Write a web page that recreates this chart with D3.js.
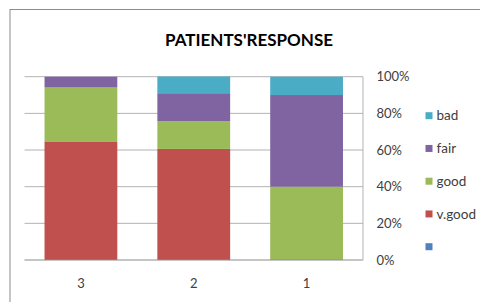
<!DOCTYPE html>
<html>
<head>
<meta charset="utf-8">
<script src="https://cdn.jsdelivr.net/npm/d3@7"></script>
<style>
  body { margin: 0; background: #fff; }
  text { font-family: Lato, "Open Sans", sans-serif; fill: #404040; }
</style>
</head>
<body>
<div id="container"></div>
<script>
/* DATA */
const categories = ["3", "2", "1"];
const seriesNames = ["", "v.good", "good", "fair", "bad"];
const blankVals = [0, 0, 0];
const vgoodVals = [64.7, 60.6, 0];
const goodVals = [29.4, 15.2, 40];
const fairVals = [5.9, 15.2, 50];
const badVals = [0, 9.1, 10];
const yTicks = [0, 20, 40, 60, 80, 100];
const colors = ["#4F81BD", "#C0504D", "#9BBB59", "#8064A2", "#4BACC6"];

const width = 480, height = 302;
const plot = {left: 24.5, right: 363, top: 76.7, bottom: 260};

// table for d3.stack
const allVals = [blankVals, vgoodVals, goodVals, fairVals, badVals];
const rows = categories.map((c, i) => {
  const r = {cat: c};
  seriesNames.forEach((s, j) => r[s] = allVals[j][i]);
  return r;
});

const svg = d3.select("#container").append("svg")
  .attr("width", width).attr("height", height);

// outer chart border
svg.append("rect")
  .attr("x", 10).attr("y", 9.5)
  .attr("width", 500).attr("height", 320)
  .attr("fill", "none").attr("stroke", "#8c8c8c").attr("stroke-width", 1);

// title
svg.append("text")
  .attr("x", 249).attr("y", 45.7)
  .attr("text-anchor", "middle")
  .attr("font-size", 17.5).attr("font-weight", "bold")
  .attr("textLength", 168).attr("lengthAdjust", "spacingAndGlyphs")
  .style("fill", "#000")
  .text("PATIENTS'RESPONSE");

/* SCALES */
const xScale = d3.scaleBand()
  .domain(categories)
  .range([plot.left, plot.right])
  .paddingInner(0.355)
  .paddingOuter(0.1775);

const yScale = d3.scaleLinear()
  .domain([0, 100])
  .range([plot.bottom, plot.top]);

const colorScale = d3.scaleOrdinal().domain(seriesNames).range(colors);

// gridlines
svg.append("g")
  .selectAll("line")
  .data(yTicks.filter(d => d > 0))
  .join("line")
  .attr("x1", plot.left).attr("x2", plot.right)
  .attr("y1", d => yScale(d)).attr("y2", d => yScale(d))
  .attr("stroke", "#b3b3b3").attr("stroke-width", 1);

/* BARS */
const stacked = d3.stack().keys(seriesNames)(rows);

svg.append("g")
  .selectAll("g")
  .data(stacked)
  .join("g")
  .attr("fill", d => colorScale(d.key))
  .selectAll("rect")
  .data(d => d)
  .join("rect")
  .attr("x", d => xScale(d.data.cat))
  .attr("width", xScale.bandwidth())
  .attr("y", d => yScale(d[1]))
  .attr("height", d => yScale(d[0]) - yScale(d[1]));

// bottom axis line and right axis line
svg.append("line")
  .attr("x1", plot.left).attr("x2", plot.right)
  .attr("y1", plot.bottom).attr("y2", plot.bottom)
  .attr("stroke", "#8c8c8c").attr("stroke-width", 1.2);

svg.append("line")
  .attr("x1", plot.right).attr("x2", plot.right)
  .attr("y1", plot.top).attr("y2", plot.bottom)
  .attr("stroke", "#b3b3b3").attr("stroke-width", 1);

/* AXES LABELS */
svg.append("g")
  .selectAll("text")
  .data(yTicks)
  .join("text")
  .attr("x", 376.5)
  .attr("y", d => yScale(d))
  .attr("dy", "0.35em")
  .attr("font-size", 13)
  .text(d => d + "%");

svg.append("g")
  .selectAll("text")
  .data(categories)
  .join("text")
  .attr("x", d => xScale(d) + xScale.bandwidth() / 2)
  .attr("y", 283)
  .attr("dy", "0.35em")
  .attr("text-anchor", "middle")
  .attr("font-size", 13)
  .text(d => d);

/* LEGEND */
const legendY = d3.scalePoint()
  .domain(seriesNames.slice().reverse())
  .range([115.7, 246.7]);

const legend = svg.append("g")
  .selectAll("g")
  .data(seriesNames.slice().reverse())
  .join("g")
  .attr("transform", d => `translate(425.5,${legendY(d)})`);

legend.append("rect")
  .attr("x", 0).attr("y", -3.5)
  .attr("width", 7).attr("height", 7)
  .attr("fill", d => colorScale(d));

legend.append("text")
  .attr("x", 11).attr("y", 0)
  .attr("dy", "0.35em")
  .attr("font-size", 13.5)
  .text(d => d);
</script>
</body>
</html>
